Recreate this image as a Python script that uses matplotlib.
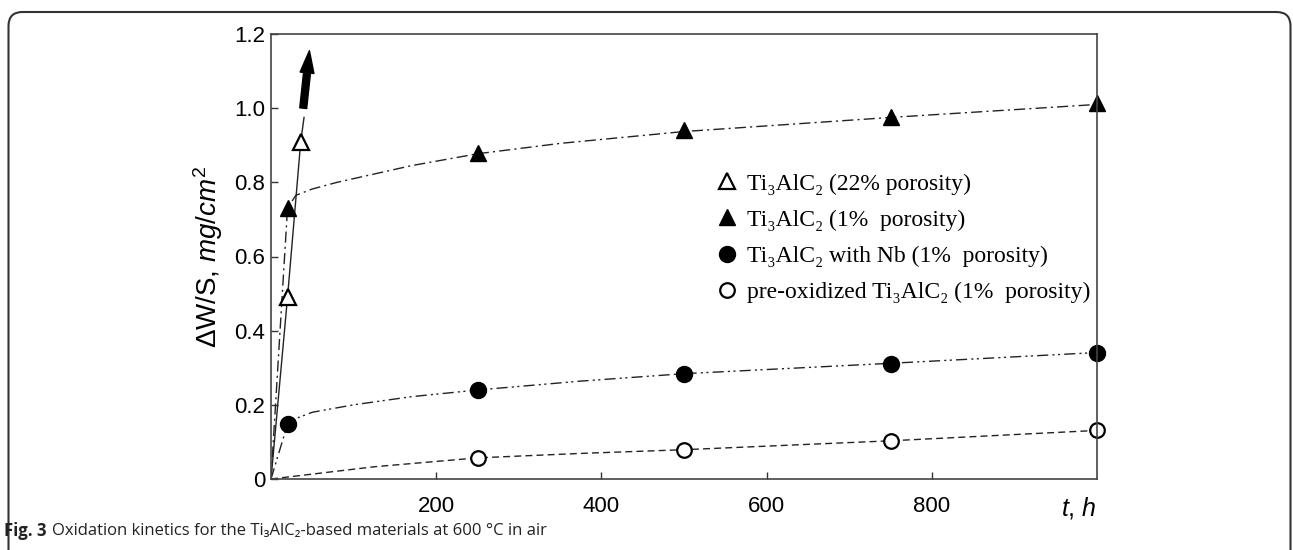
import matplotlib
matplotlib.use("Agg")
import matplotlib.pyplot as plt
from matplotlib.lines import Line2D
from matplotlib.patches import FancyBboxPatch
from matplotlib.transforms import IdentityTransform

plt.rcParams['font.family'] = ['Liberation Sans', 'DejaVu Sans']
plt.rcParams['mathtext.fontset'] = 'custom'
plt.rcParams['mathtext.rm'] = 'Liberation Sans'
plt.rcParams['mathtext.it'] = 'Liberation Sans:italic'

# measured points (t in h, dW/S in mg/cm2)
t_porous = [0, 20, 36]
w_porous = [0, 0.49, 0.91]
t_dense = [0, 20, 250, 500, 750, 1000]
w_dense = [0, 0.73, 0.88, 0.94, 0.975, 1.015]
t_nb = [0, 20, 250, 500, 750, 1000]
w_nb = [0, 0.148, 0.24, 0.284, 0.31, 0.34]
t_preox = [0, 250, 500, 750, 1000]
w_preox = [0, 0.057, 0.079, 0.103, 0.132]

# fitted curves as drawn in the figure
t_porous_fit = [0, 20, 36, 40]
w_porous_fit = [0, 0.49, 0.91, 0.975]
t_dense_fit = [0, 20, 30, 50, 80, 120, 170, 250, 350, 500, 750, 1000]
w_dense_fit = [0, 0.73, 0.765, 0.782, 0.80, 0.82, 0.845, 0.877, 0.905, 0.937, 0.975, 1.01]
t_nb_fit = [0, 20, 30, 50, 100, 170, 250, 375, 500, 750, 1000]
w_nb_fit = [0, 0.148, 0.163, 0.18, 0.20, 0.222, 0.24, 0.264, 0.284, 0.312, 0.341]
t_preox_fit = [0, 125, 250, 375, 500, 750, 1000]
w_preox_fit = [0, 0.033, 0.057, 0.069, 0.079, 0.103, 0.131]

labels = ['Ti\u2083AlC\u2082 (22% porosity)',
          'Ti\u2083AlC\u2082 (1%  porosity)',
          'Ti\u2083AlC\u2082 with Nb (1%  porosity)',
          'pre-oxidized Ti\u2083AlC\u2082 (1%  porosity)']

fig = plt.figure(figsize=(12.93, 5.5), dpi=100)
ax = fig.add_axes([271 / 1293, 1 - 479 / 550, 826 / 1293, 445 / 550])

lc = '#222222'
ax.plot(t_porous_fit, w_porous_fit, '-', color=lc, lw=1.0)
ax.plot(t_dense_fit, w_dense_fit, color=lc, lw=1.0, dashes=[8, 3, 1.5, 3])
ax.plot(t_nb_fit, w_nb_fit, color=lc, lw=1.0, dashes=[8, 3, 1.5, 2.5, 1.5, 3])
ax.plot(t_preox_fit, w_preox_fit, color=lc, lw=1.0, dashes=[5, 3])

ms = 11.5
ax.plot(t_porous[1:], w_porous[1:], '^', ms=ms, mfc='white', mec='black', mew=1.6, clip_on=False)
ax.plot(t_dense[1:], w_dense[1:], '^', ms=ms, mfc='black', mec='black', clip_on=False)
ax.plot(t_nb[1:], w_nb[1:], 'o', ms=ms, mfc='black', mec='black', clip_on=False)
ax.plot(t_preox[1:], w_preox[1:], 'o', ms=ms - 1, mfc='white', mec='black', mew=1.6, clip_on=False)

ax.annotate('', xy=(46.5, 1.155), xytext=(39, 1.0),
            arrowprops=dict(width=5, headwidth=10, headlength=16, color='black', shrink=0))

ax.set_xlim(0, 1000)
ax.set_ylim(0, 1.2)
ax.set_xticks([200, 400, 600, 800])
ax.set_yticks([0, 0.2, 0.4, 0.6, 0.8, 1.0, 1.2])
ax.set_yticklabels(['0', '0.2', '0.4', '0.6', '0.8', '1.0', '1.2'])
ax.tick_params(direction='in', length=5, width=1, labelsize=16, color='#333333')
ax.tick_params(axis='y', pad=4)
ax.tick_params(axis='x', pad=12)
for s in ax.spines.values():
    s.set_color('#444444')
    s.set_linewidth(1.2)

ax.set_ylabel(r'$\Delta$W/S, $mg/cm^2$', fontsize=20, labelpad=7)
ax.text(1000, -0.042, r'$t$, $h$', fontsize=18, ha='right', va='top')

handles = [
    Line2D([], [], ls='none', marker='^', ms=ms, mfc='white', mec='black', mew=1.6),
    Line2D([], [], ls='none', marker='^', ms=ms, mfc='black', mec='black'),
    Line2D([], [], ls='none', marker='o', ms=ms, mfc='black', mec='black'),
    Line2D([], [], ls='none', marker='o', ms=ms - 1, mfc='white', mec='black', mew=1.6),
]
ax.legend(handles, labels, loc='upper left', bbox_to_anchor=(715 / 1293, 1 - 173 / 550),
          bbox_transform=fig.transFigure, frameon=False, borderpad=0, borderaxespad=0,
          handlelength=1.0, handletextpad=0.35, labelspacing=0.62,
          prop={'family': ['Liberation Serif', 'DejaVu Serif'], 'size': 17})

# caption
r = fig.canvas.get_renderer()
t1 = fig.text(4 / 1293, 1 - 531 / 550, 'Fig. 3', fontsize=12, fontweight='bold',
              family=['Open Sans', 'DejaVu Sans'], va='center', color='#222222')
bb = t1.get_window_extent(r)
fig.text((bb.x1 + 5) / 1293, 1 - 531 / 550,
         'Oxidation kinetics for the Ti\u2083AlC\u2082-based materials at 600 \u00b0C in air',
         fontsize=12, family=['Open Sans', 'DejaVu Sans'], va='center', color='#222222')

frame = FancyBboxPatch((8.5, -30), 1282, 568, boxstyle='round,pad=0,rounding_size=14',
                       transform=IdentityTransform(), fc='none', ec='#333333', lw=1.5)
fig.add_artist(frame)

fig.savefig('out.png', dpi=100)
